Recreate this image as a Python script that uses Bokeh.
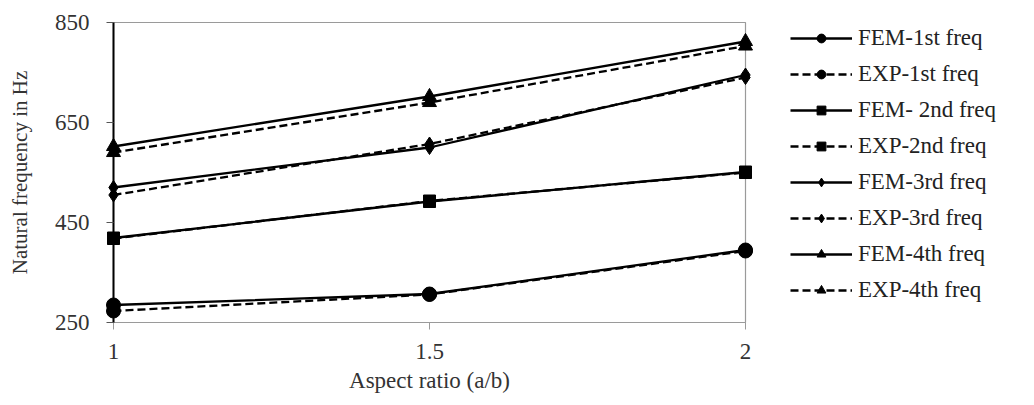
from bokeh.plotting import figure
from bokeh.models import Range1d, Legend, LegendItem, FixedTicker
from bokeh.layouts import row
from bokeh.embed import file_html
from bokeh.resources import INLINE

# ---- data ----
aspect_ratio = [1, 1.5, 2]
fem_1st = [285, 307, 395]
exp_1st = [273, 306, 393]
fem_2nd = [419, 492, 551]
exp_2nd = [418, 493, 550]
fem_3rd = [520, 600, 745]
exp_3rd = [505, 607, 740]
fem_4th = [602, 702, 812]
exp_4th = [590, 690, 803]
series_names = ["FEM-1st freq", "EXP-1st freq", "FEM- 2nd freq", "EXP-2nd freq",
                "FEM-3rd freq", "EXP-3rd freq", "FEM-4th freq", "EXP-4th freq"]
x_ticks = [1, 1.5, 2]
x_tick_labels = ["1", "1.5", "2"]
y_ticks = [250, 450, 650, 850]

FONT = "Liberation Serif"

values = [fem_1st, exp_1st, fem_2nd, exp_2nd, fem_3rd, exp_3rd, fem_4th, exp_4th]
dashes = ["solid", "8 4"] * 4
markers = ["circle", "circle", "square", "square", "diamond", "diamond", "triangle", "triangle"]
sizes = [14, 14, 12, 12, 14, 14, 14, 14]

# ---- main chart ----
p = figure(width=775, height=400, output_backend="svg", toolbar_location=None,
           x_range=Range1d(1, 2), y_range=Range1d(250, 850),
           min_border_left=113, min_border_right=30, min_border_top=22,
           min_border_bottom=78, background_fill_color="white",
           border_fill_color="white")
p.xgrid.visible = False
p.ygrid.visible = False
p.outline_line_color = "#9a9a9a"
p.outline_line_width = 1.2

for vals, dash, mk, sz in zip(values, dashes, markers, sizes):
    p.line(aspect_ratio, vals, line_color="black", line_width=2.3, line_dash=dash)
    p.scatter(aspect_ratio, vals, marker=mk, size=sz, fill_color="black",
              line_color="black", level="overlay")

p.xaxis.ticker = FixedTicker(ticks=x_ticks, minor_ticks=[])
p.xaxis.major_label_overrides = dict(zip(x_ticks, x_tick_labels))
p.yaxis.ticker = FixedTicker(ticks=y_ticks, minor_ticks=[])
for ax in (p.xaxis[0], p.yaxis[0]):
    ax.major_label_text_font = FONT
    ax.major_label_text_font_size = "23px"
    ax.major_label_text_color = "#333333"
    ax.axis_label_text_font = FONT
    ax.axis_label_text_font_style = "normal"
    ax.axis_label_text_color = "#333333"
    ax.major_tick_out = 7
    ax.major_tick_in = 0
    ax.minor_tick_out = 0
    ax.minor_tick_in = 0

p.xaxis.axis_label = "Aspect ratio (a/b)"
p.xaxis.axis_label_text_font_size = "23px"
p.xaxis.axis_line_color = "#9a9a9a"
p.xaxis.major_tick_line_color = "#9a9a9a"
p.xaxis.major_label_standoff = 14
p.xaxis.axis_label_standoff = 6

p.yaxis.axis_label = "Natural frequency in Hz"
p.yaxis.axis_label_text_font_size = "21px"
p.yaxis.axis_line_color = "black"
p.yaxis.axis_line_width = 2
p.yaxis.major_tick_line_color = "#555555"
p.yaxis.major_label_standoff = 17
p.yaxis.axis_label_standoff = 20

# ---- legend panel (same series, kept outside its visible range) ----
q = figure(width=255, height=400, output_backend="svg", toolbar_location=None,
           x_range=Range1d(10, 11), y_range=Range1d(0, 1),
           x_axis_location=None, y_axis_location=None,
           min_border_left=0, min_border_right=0, min_border_top=0,
           min_border_bottom=0, outline_line_color=None,
           background_fill_color="white", border_fill_color="white")
q.xgrid.visible = False
q.ygrid.visible = False

items = []
for name, vals, dash, mk, sz in zip(series_names, values, dashes, markers, sizes):
    l = q.line(aspect_ratio, vals, line_color="black", line_width=2.3, line_dash=dash)
    s = q.scatter(aspect_ratio, vals, marker=mk, size=sz, fill_color="black",
                  line_color="black")
    items.append(LegendItem(label=name, renderers=[l, s]))

legend = Legend(items=items, location=(15, 17), glyph_width=62, glyph_height=22,
                label_height=30, spacing=6, padding=0, margin=0,
                label_standoff=6, border_line_color=None, background_fill_alpha=0,
                label_text_font=FONT, label_text_font_size="23px",
                label_text_color="#222222")
q.add_layout(legend, "center")

open("out.html", "w").write(file_html(row(p, q), INLINE))
